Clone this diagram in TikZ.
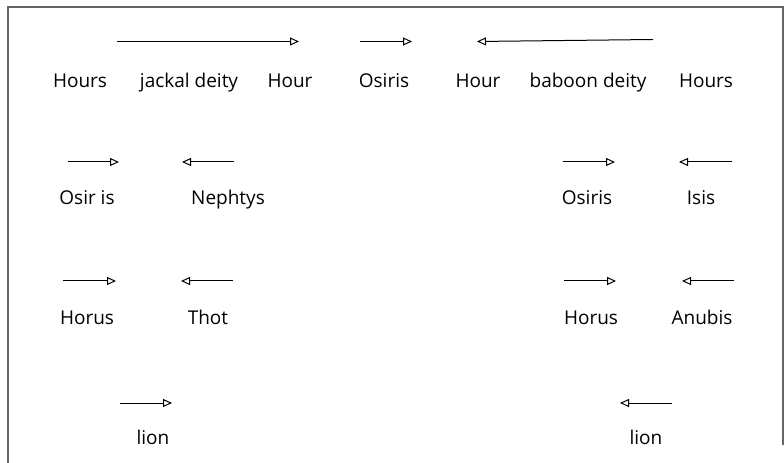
\documentclass[tikz,border=0pt]{standalone}
\usepackage{fontspec}
\setmainfont{Open Sans}
\usetikzlibrary{arrows.meta}

\begin{document}
\begin{tikzpicture}[x=1bp,y=-1bp]
       \tikzset{deity/.style ={inner sep=0pt, anchor=base, font=\fontsize{19bp}{22bp}\selectfont}}

       \tikzset{pointer/.style={-{Triangle[open,length=9bp,width=8bp]}, line width=1bp}}

       \tikzset{frame/.style={draw=gray!80!black, line width=1.4bp}}

        \useasboundingbox (0,0) rectangle (784,463);
        \draw[frame] (8,463) -- (8,7) -- (784,7);
        \draw[frame] (783,7) -- (783,445);

        % first row
        \node[deity] (hours1) at (80,88) {Hours};
        \node[deity] (jackal) at (189,88) {jackal deity};
        \node[deity] (hour1) at (290,88) {Hour};
        \node[deity] (osiris1) at (384,88) {Osiris};
        \node[deity] (hour2) at (478,88) {Hour};
        \node[deity] (baboon) at (588,88) {baboon deity};
        \node[deity] (hours2) at (706,88) {Hours};

        \coordinate (j1) at (117,41.5);
        \coordinate (j2) at (299,41.5);
        \coordinate (o1) at (360,41.5);
        \coordinate (o2) at (412,41.5);
        \coordinate (b1) at (653,39.5);
        \coordinate (b2) at (477,41.5);

        \draw[pointer](j1) -- (j2);
        \draw[pointer](o1) -- (o2);
        \draw[pointer](b1) -- (b2);

        % left group
        \node[deity] (osirisL) at (87,205) {Osir is};
        \node[deity] (nephtys) at (228,205) {Nephtys};
        \node[deity] (horusL) at (87,325) {Horus};
        \node[deity] (thot) at (208,325) {Thot};
        \node[deity] (lionL) at (153,444) {lion};

        \coordinate (ol1) at (68,162);
        \coordinate (ol2) at (119,162);
        \coordinate (n1) at (234,162);
        \coordinate (n2) at (182,162);
        \coordinate (hl1) at (63,281);
        \coordinate (hl2) at (116,281);
        \coordinate (t1) at (233,281);
        \coordinate (t2) at (181,281);
        \coordinate (ll1) at (120,403);
        \coordinate (ll2) at (172,403);

        \draw[pointer](ol1) -- (ol2);
        \draw[pointer](n1) -- (n2);
        \draw[pointer](hl1) -- (hl2);
        \draw[pointer](t1) -- (t2);
        \draw[pointer](ll1) -- (ll2);

        % right group
        \node[deity] (osirisR) at (587,205) {Osiris};
        \node[deity] (isis) at (701,205) {Isis};
        \node[deity] (horusR) at (591,325) {Horus};
        \node[deity] (anubis) at (702,325) {Anubis};
        \node[deity] (lionR) at (646,444) {lion};

        \coordinate (or1) at (563,162);
        \coordinate (or2) at (615,162);
        \coordinate (i1) at (732,162);
        \coordinate (i2) at (679,162);
        \coordinate (hr1) at (564,281);
        \coordinate (hr2) at (616,281);
        \coordinate (a1) at (734,281);
        \coordinate (a2) at (682,281);
        \coordinate (lr1) at (672,403);
        \coordinate (lr2) at (620,403);

        \draw[pointer](or1) -- (or2);
        \draw[pointer](i1) -- (i2);
        \draw[pointer](hr1) -- (hr2);
        \draw[pointer](a1) -- (a2);
        \draw[pointer](lr1) -- (lr2);

\end{tikzpicture}
\end{document}
